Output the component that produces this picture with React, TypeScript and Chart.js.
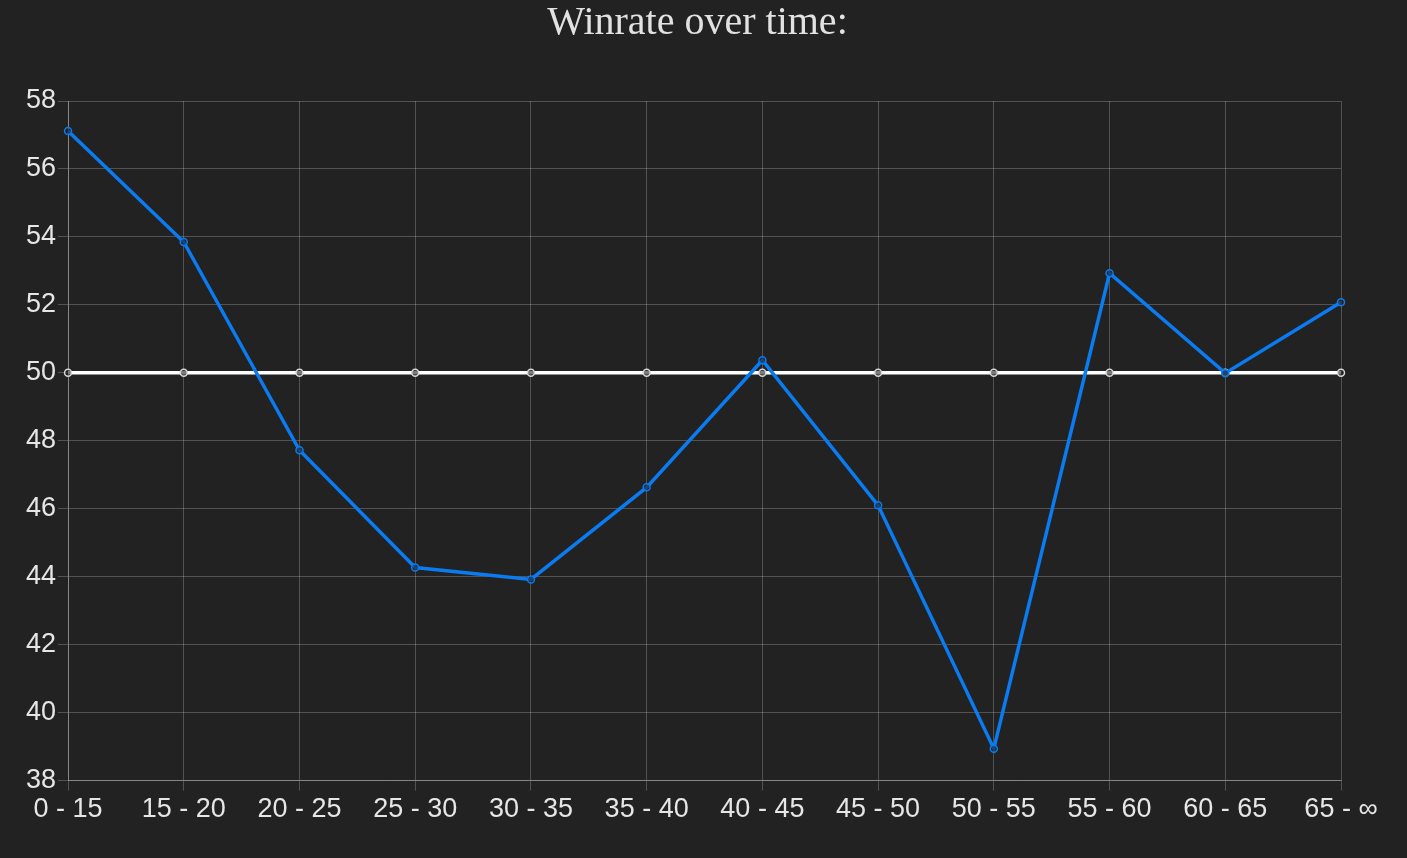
import React, { useEffect, useRef } from "react";
import { Chart, registerables } from "chart.js";

Chart.register(...registerables);

const categories = ["0 - 15", "15 - 20", "20 - 25", "25 - 30", "30 - 35", "35 - 40", "40 - 45", "45 - 50", "50 - 55", "55 - 60", "60 - 65", "65 - ∞"];
const winrate = [57.12, 53.85, 47.72, 44.27, 43.92, 46.63, 50.37, 46.1, 38.94, 52.93, 49.99, 52.08];
const baseline = [50, 50, 50, 50, 50, 50, 50, 50, 50, 50, 50, 50];
const yMin = 38;
const yMax = 58;
const yStep = 2;
const titleText = "Winrate over time:";

export default function App() {
  const ref = useRef<HTMLCanvasElement | null>(null);
  useEffect(() => {
    if (!ref.current) return;
    const chart = new Chart(ref.current, {
      type: "line",
      data: {
        labels: categories,
        datasets: [
          {
            label: "Winrate",
            data: winrate,
            borderColor: "#0a7bf0",
            backgroundColor: "#0a7bf0",
            borderWidth: 3.5,
            pointRadius: 3.5,
            pointBorderWidth: 1.5,
            pointBorderColor: "#0a7bf0",
            pointBackgroundColor: "rgba(34,34,34,0.6)",
            tension: 0,
          },
          {
            label: "50%",
            data: baseline,
            borderColor: "#ffffff",
            backgroundColor: "#ffffff",
            borderWidth: 3.5,
            pointRadius: 3.5,
            pointBorderWidth: 1.5,
            pointBorderColor: "#d8d8d8",
            pointBackgroundColor: "rgba(34,34,34,0.6)",
            tension: 0,
          },
        ],
      },
      options: {
        animation: false,
        responsive: true,
        maintainAspectRatio: false,
        layout: { padding: { left: 24, right: 66, top: 101, bottom: 29 } },
        plugins: {
          legend: { display: false },
          tooltip: { enabled: false },
          title: { display: false },
        },
        scales: {
          x: {
            grid: { color: "rgba(255,255,255,0.22)", tickLength: 10 },
            border: { color: "rgba(255,255,255,0.3)" },
            ticks: {
              color: "#e6e6e6",
              font: { family: "'Liberation Sans', Arial, sans-serif", size: 27 },
              maxRotation: 0,
              autoSkip: false,
              padding: 3,
            },
          },
          y: {
            min: yMin,
            max: yMax,
            grid: { color: "rgba(255,255,255,0.22)", tickLength: 10 },
            border: { color: "rgba(255,255,255,0.3)" },
            ticks: {
              stepSize: yStep,
              color: "#e6e6e6",
              font: { family: "'Liberation Sans', Arial, sans-serif", size: 27 },
              padding: 2,
            },
          },
        },
      },
    });
    return () => chart.destroy();
  }, []);
  return (
    <div style={{ position: "fixed", left: 0, top: 0, width: 1407, height: 858, background: "#222222" }}>
      <div
        style={{
          position: "absolute",
          left: -6,
          top: -3,
          width: 1407,
          height: 48,
          lineHeight: "48px",
          textAlign: "center",
          color: "#e2e2e2",
          fontFamily: "'Liberation Serif', 'Times New Roman', serif",
          fontSize: 40,
        }}
      >
        {titleText}
      </div>
      <div style={{ position: "absolute", left: 0, top: 0, width: 1407, height: 858 }}>
        <canvas ref={ref} />
      </div>
    </div>
  );
}
